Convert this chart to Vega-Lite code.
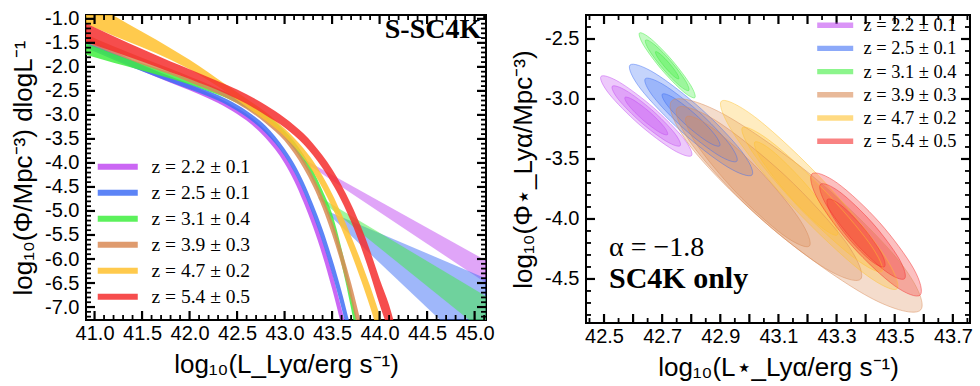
{
"$schema":"https://vega.github.io/schema/vega-lite/v6.json",
"padding":{"left":9,"top":7,"right":0,"bottom":0},
"spacing":13,
"config":{
 "view":{"stroke":"#000","strokeWidth":2},
 "axis":{"labelFont":"Liberation Sans","labelFontSize":20,"labelColor":"#000","titleFont":"Liberation Sans","titleFontSize":26,"titleFontWeight":"normal","titleColor":"#000","ticks":true,"tickOpacity":0,"grid":false,"domain":false}
},
"datasets":{
"pl":[
{"z":"z = 2.2 ± 0.1","L":43.2,"lo":-3.97,"hi":-3.92},{"z":"z = 2.2 ± 0.1","L":45.15,"lo":-6.54,"hi":-6.065},
{"z":"z = 2.5 ± 0.1","L":43.45,"lo":-5.05,"hi":-5.0},{"z":"z = 2.5 ± 0.1","L":45.15,"lo":-8.23,"hi":-6.43},
{"z":"z = 3.1 ± 0.4","L":43.36,"lo":-4.75,"hi":-4.7},{"z":"z = 3.1 ± 0.4","L":45.15,"lo":-7.6,"hi":-6.81}
],
"bands":[
{"z":"z = 2.2 ± 0.1","L":40.9,"lo":-1.54,"hi":-1.36},{"z":"z = 2.2 ± 0.1","L":41.2,"lo":-1.815,"hi":-1.665},{"z":"z = 2.2 ± 0.1","L":41.5,"lo":-2.085,"hi":-1.955},{"z":"z = 2.2 ± 0.1","L":41.8,"lo":-2.33,"hi":-2.21},{"z":"z = 2.2 ± 0.1","L":42.0,"lo":-2.488,"hi":-2.372},{"z":"z = 2.2 ± 0.1","L":42.2,"lo":-2.658,"hi":-2.542},{"z":"z = 2.2 ± 0.1","L":42.4,"lo":-2.86,"hi":-2.74},{"z":"z = 2.2 ± 0.1","L":42.6,"lo":-3.118,"hi":-2.982},{"z":"z = 2.2 ± 0.1","L":42.8,"lo":-3.48,"hi":-3.32},{"z":"z = 2.2 ± 0.1","L":43.0,"lo":-4.005,"hi":-3.835},{"z":"z = 2.2 ± 0.1","L":43.1,"lo":-4.37,"hi":-4.17},{"z":"z = 2.2 ± 0.1","L":43.2,"lo":-4.82,"hi":-4.58},{"z":"z = 2.2 ± 0.1","L":43.3,"lo":-5.335,"hi":-5.065},{"z":"z = 2.2 ± 0.1","L":43.4,"lo":-5.93,"hi":-5.63},{"z":"z = 2.2 ± 0.1","L":43.5,"lo":-6.62,"hi":-6.28},{"z":"z = 2.2 ± 0.1","L":43.6,"lo":-7.4,"hi":-7.04},{"z":"z = 2.2 ± 0.1","L":43.7,"lo":-8.2,"hi":-7.8},
{"z":"z = 2.5 ± 0.1","L":40.9,"lo":-1.6,"hi":-1.44},{"z":"z = 2.5 ± 0.1","L":41.2,"lo":-1.85,"hi":-1.71},{"z":"z = 2.5 ± 0.1","L":41.5,"lo":-2.092,"hi":-1.968},{"z":"z = 2.5 ± 0.1","L":41.8,"lo":-2.318,"hi":-2.202},{"z":"z = 2.5 ± 0.1","L":42.0,"lo":-2.468,"hi":-2.352},{"z":"z = 2.5 ± 0.1","L":42.2,"lo":-2.618,"hi":-2.502},{"z":"z = 2.5 ± 0.1","L":42.4,"lo":-2.8,"hi":-2.68},{"z":"z = 2.5 ± 0.1","L":42.6,"lo":-3.046,"hi":-2.914},{"z":"z = 2.5 ± 0.1","L":42.8,"lo":-3.376,"hi":-3.224},{"z":"z = 2.5 ± 0.1","L":43.0,"lo":-3.857,"hi":-3.703},{"z":"z = 2.5 ± 0.1","L":43.1,"lo":-4.19,"hi":-4.01},{"z":"z = 2.5 ± 0.1","L":43.2,"lo":-4.605,"hi":-4.395},{"z":"z = 2.5 ± 0.1","L":43.3,"lo":-5.102,"hi":-4.858},{"z":"z = 2.5 ± 0.1","L":43.4,"lo":-5.66,"hi":-5.38},{"z":"z = 2.5 ± 0.1","L":43.5,"lo":-6.308,"hi":-5.992},{"z":"z = 2.5 ± 0.1","L":43.6,"lo":-7.025,"hi":-6.675},{"z":"z = 2.5 ± 0.1","L":43.7,"lo":-7.84,"hi":-7.46},{"z":"z = 2.5 ± 0.1","L":43.8,"lo":-8.71,"hi":-8.29},
{"z":"z = 3.1 ± 0.4","L":40.9,"lo":-1.74,"hi":-1.5},{"z":"z = 3.1 ± 0.4","L":41.2,"lo":-1.915,"hi":-1.725},{"z":"z = 3.1 ± 0.4","L":41.5,"lo":-2.075,"hi":-1.925},{"z":"z = 3.1 ± 0.4","L":41.8,"lo":-2.242,"hi":-2.118},{"z":"z = 3.1 ± 0.4","L":42.0,"lo":-2.368,"hi":-2.252},{"z":"z = 3.1 ± 0.4","L":42.2,"lo":-2.508,"hi":-2.392},{"z":"z = 3.1 ± 0.4","L":42.4,"lo":-2.658,"hi":-2.542},{"z":"z = 3.1 ± 0.4","L":42.6,"lo":-2.864,"hi":-2.736},{"z":"z = 3.1 ± 0.4","L":42.8,"lo":-3.122,"hi":-2.978},{"z":"z = 3.1 ± 0.4","L":43.0,"lo":-3.47,"hi":-3.33},{"z":"z = 3.1 ± 0.4","L":43.1,"lo":-3.71,"hi":-3.55},{"z":"z = 3.1 ± 0.4","L":43.2,"lo":-4.01,"hi":-3.83},{"z":"z = 3.1 ± 0.4","L":43.3,"lo":-4.375,"hi":-4.165},{"z":"z = 3.1 ± 0.4","L":43.4,"lo":-4.82,"hi":-4.58},{"z":"z = 3.1 ± 0.4","L":43.5,"lo":-5.34,"hi":-5.06},{"z":"z = 3.1 ± 0.4","L":43.6,"lo":-6.11,"hi":-5.79},{"z":"z = 3.1 ± 0.4","L":43.7,"lo":-7.03,"hi":-6.67},{"z":"z = 3.1 ± 0.4","L":43.8,"lo":-8.05,"hi":-7.65},
{"z":"z = 3.9 ± 0.3","L":40.9,"lo":-1.49,"hi":-1.31},{"z":"z = 3.9 ± 0.3","L":41.2,"lo":-1.728,"hi":-1.572},{"z":"z = 3.9 ± 0.3","L":41.5,"lo":-1.948,"hi":-1.812},{"z":"z = 3.9 ± 0.3","L":41.8,"lo":-2.16,"hi":-2.04},{"z":"z = 3.9 ± 0.3","L":42.0,"lo":-2.318,"hi":-2.202},{"z":"z = 3.9 ± 0.3","L":42.2,"lo":-2.478,"hi":-2.362},{"z":"z = 3.9 ± 0.3","L":42.4,"lo":-2.658,"hi":-2.542},{"z":"z = 3.9 ± 0.3","L":42.6,"lo":-2.884,"hi":-2.756},{"z":"z = 3.9 ± 0.3","L":42.8,"lo":-3.172,"hi":-3.028},{"z":"z = 3.9 ± 0.3","L":43.0,"lo":-3.54,"hi":-3.4},{"z":"z = 3.9 ± 0.3","L":43.1,"lo":-3.8,"hi":-3.64},{"z":"z = 3.9 ± 0.3","L":43.2,"lo":-4.11,"hi":-3.93},{"z":"z = 3.9 ± 0.3","L":43.3,"lo":-4.485,"hi":-4.275},{"z":"z = 3.9 ± 0.3","L":43.4,"lo":-4.94,"hi":-4.7},{"z":"z = 3.9 ± 0.3","L":43.5,"lo":-5.49,"hi":-5.21},{"z":"z = 3.9 ± 0.3","L":43.6,"lo":-6.13,"hi":-5.81},{"z":"z = 3.9 ± 0.3","L":43.7,"lo":-6.86,"hi":-6.5},{"z":"z = 3.9 ± 0.3","L":43.8,"lo":-7.7,"hi":-7.3},{"z":"z = 3.9 ± 0.3","L":43.9,"lo":-8.62,"hi":-8.18},
{"z":"z = 4.7 ± 0.2","L":40.9,"lo":-1.1,"hi":-0.6},{"z":"z = 4.7 ± 0.2","L":41.2,"lo":-1.35,"hi":-0.93},{"z":"z = 4.7 ± 0.2","L":41.5,"lo":-1.59,"hi":-1.27},{"z":"z = 4.7 ± 0.2","L":41.8,"lo":-1.85,"hi":-1.61},{"z":"z = 4.7 ± 0.2","L":42.0,"lo":-2.05,"hi":-1.85},{"z":"z = 4.7 ± 0.2","L":42.2,"lo":-2.285,"hi":-2.115},{"z":"z = 4.7 ± 0.2","L":42.4,"lo":-2.545,"hi":-2.395},{"z":"z = 4.7 ± 0.2","L":42.6,"lo":-2.835,"hi":-2.665},{"z":"z = 4.7 ± 0.2","L":42.8,"lo":-3.123,"hi":-2.937},{"z":"z = 4.7 ± 0.2","L":43.0,"lo":-3.455,"hi":-3.285},{"z":"z = 4.7 ± 0.2","L":43.1,"lo":-3.66,"hi":-3.48},{"z":"z = 4.7 ± 0.2","L":43.2,"lo":-3.9,"hi":-3.7},{"z":"z = 4.7 ± 0.2","L":43.3,"lo":-4.182,"hi":-3.958},{"z":"z = 4.7 ± 0.2","L":43.4,"lo":-4.526,"hi":-4.274},{"z":"z = 4.7 ± 0.2","L":43.5,"lo":-4.92,"hi":-4.64},{"z":"z = 4.7 ± 0.2","L":43.6,"lo":-5.375,"hi":-5.065},{"z":"z = 4.7 ± 0.2","L":43.7,"lo":-5.875,"hi":-5.525},{"z":"z = 4.7 ± 0.2","L":43.8,"lo":-6.415,"hi":-6.025},{"z":"z = 4.7 ± 0.2","L":43.9,"lo":-6.997,"hi":-6.563},{"z":"z = 4.7 ± 0.2","L":44.0,"lo":-7.64,"hi":-7.16},{"z":"z = 4.7 ± 0.2","L":44.1,"lo":-8.36,"hi":-7.84},
{"z":"z = 5.4 ± 0.5","L":40.9,"lo":-1.47,"hi":-1.09},{"z":"z = 5.4 ± 0.5","L":41.2,"lo":-1.68,"hi":-1.36},{"z":"z = 5.4 ± 0.5","L":41.5,"lo":-1.89,"hi":-1.63},{"z":"z = 5.4 ± 0.5","L":41.8,"lo":-2.11,"hi":-1.89},{"z":"z = 5.4 ± 0.5","L":42.0,"lo":-2.25,"hi":-2.05},{"z":"z = 5.4 ± 0.5","L":42.2,"lo":-2.405,"hi":-2.215},{"z":"z = 5.4 ± 0.5","L":42.4,"lo":-2.575,"hi":-2.385},{"z":"z = 5.4 ± 0.5","L":42.6,"lo":-2.77,"hi":-2.57},{"z":"z = 5.4 ± 0.5","L":42.8,"lo":-3.005,"hi":-2.795},{"z":"z = 5.4 ± 0.5","L":43.0,"lo":-3.26,"hi":-3.06},{"z":"z = 5.4 ± 0.5","L":43.1,"lo":-3.425,"hi":-3.215},{"z":"z = 5.4 ± 0.5","L":43.2,"lo":-3.612,"hi":-3.388},{"z":"z = 5.4 ± 0.5","L":43.3,"lo":-3.842,"hi":-3.598},{"z":"z = 5.4 ± 0.5","L":43.4,"lo":-4.113,"hi":-3.847},{"z":"z = 5.4 ± 0.5","L":43.5,"lo":-4.427,"hi":-4.133},{"z":"z = 5.4 ± 0.5","L":43.6,"lo":-4.79,"hi":-4.47},{"z":"z = 5.4 ± 0.5","L":43.7,"lo":-5.22,"hi":-4.86},{"z":"z = 5.4 ± 0.5","L":43.8,"lo":-5.73,"hi":-5.31},{"z":"z = 5.4 ± 0.5","L":43.9,"lo":-6.31,"hi":-5.83},{"z":"z = 5.4 ± 0.5","L":44.0,"lo":-6.945,"hi":-6.415},{"z":"z = 5.4 ± 0.5","L":44.1,"lo":-7.54,"hi":-6.96},{"z":"z = 5.4 ± 0.5","L":44.2,"lo":-8.32,"hi":-7.68}
],
"ct":[
{"z":"z = 2.2 ± 0.1","c":"1a","i":0,"x":42.801,"y":-3.472},{"z":"z = 2.2 ± 0.1","c":"1a","i":1,"x":42.7376,"y":-3.4236},{"z":"z = 2.2 ± 0.1","c":"1a","i":2,"x":42.6202,"y":-3.2105},{"z":"z = 2.2 ± 0.1","c":"1a","i":3,"x":42.5174,"y":-2.957},{"z":"z = 2.2 ± 0.1","c":"1a","i":4,"x":42.4896,"y":-2.8117},{"z":"z = 2.2 ± 0.1","c":"1a","i":5,"x":42.553,"y":-2.8598},{"z":"z = 2.2 ± 0.1","c":"1a","i":6,"x":42.6704,"y":-3.0729},{"z":"z = 2.2 ± 0.1","c":"1a","i":7,"x":42.7732,"y":-3.3264},
{"z":"z = 2.2 ± 0.1","c":"1b","i":0,"x":42.7621,"y":-3.3892},{"z":"z = 2.2 ± 0.1","c":"1b","i":1,"x":42.7145,"y":-3.3531},{"z":"z = 2.2 ± 0.1","c":"1b","i":2,"x":42.6265,"y":-3.1933},{"z":"z = 2.2 ± 0.1","c":"1b","i":3,"x":42.5494,"y":-3.0032},{"z":"z = 2.2 ± 0.1","c":"1b","i":4,"x":42.5285,"y":-2.8942},{"z":"z = 2.2 ± 0.1","c":"1b","i":5,"x":42.5761,"y":-2.9303},{"z":"z = 2.2 ± 0.1","c":"1b","i":6,"x":42.6641,"y":-3.0901},{"z":"z = 2.2 ± 0.1","c":"1b","i":7,"x":42.7412,"y":-3.2802},
{"z":"z = 2.2 ± 0.1","c":"1c","i":0,"x":42.7185,"y":-3.2968},{"z":"z = 2.2 ± 0.1","c":"1c","i":1,"x":42.6887,"y":-3.2742},{"z":"z = 2.2 ± 0.1","c":"1c","i":2,"x":42.6335,"y":-3.174},{"z":"z = 2.2 ± 0.1","c":"1c","i":3,"x":42.5852,"y":-3.0549},{"z":"z = 2.2 ± 0.1","c":"1c","i":4,"x":42.5721,"y":-2.9866},{"z":"z = 2.2 ± 0.1","c":"1c","i":5,"x":42.6019,"y":-3.0092},{"z":"z = 2.2 ± 0.1","c":"1c","i":6,"x":42.6571,"y":-3.1094},{"z":"z = 2.2 ± 0.1","c":"1c","i":7,"x":42.7054,"y":-3.2285},
{"z":"z = 2.5 ± 0.1","c":"2a","i":0,"x":43.0093,"y":-3.6328},{"z":"z = 2.5 ± 0.1","c":"2a","i":1,"x":42.9232,"y":-3.5641},{"z":"z = 2.5 ± 0.1","c":"2a","i":2,"x":42.7645,"y":-3.2675},{"z":"z = 2.5 ± 0.1","c":"2a","i":3,"x":42.6262,"y":-2.9167},{"z":"z = 2.5 ± 0.1","c":"2a","i":4,"x":42.5893,"y":-2.7172},{"z":"z = 2.5 ± 0.1","c":"2a","i":5,"x":42.6754,"y":-2.7859},{"z":"z = 2.5 ± 0.1","c":"2a","i":6,"x":42.8341,"y":-3.0825},{"z":"z = 2.5 ± 0.1","c":"2a","i":7,"x":42.9724,"y":-3.4333},
{"z":"z = 2.5 ± 0.1","c":"2b","i":0,"x":42.9568,"y":-3.5184},{"z":"z = 2.5 ± 0.1","c":"2b","i":1,"x":42.8922,"y":-3.4668},{"z":"z = 2.5 ± 0.1","c":"2b","i":2,"x":42.7732,"y":-3.2444},{"z":"z = 2.5 ± 0.1","c":"2b","i":3,"x":42.6695,"y":-2.9813},{"z":"z = 2.5 ± 0.1","c":"2b","i":4,"x":42.6418,"y":-2.8316},{"z":"z = 2.5 ± 0.1","c":"2b","i":5,"x":42.7064,"y":-2.8832},{"z":"z = 2.5 ± 0.1","c":"2b","i":6,"x":42.8254,"y":-3.1056},{"z":"z = 2.5 ± 0.1","c":"2b","i":7,"x":42.9291,"y":-3.3687},
{"z":"z = 2.5 ± 0.1","c":"2c","i":0,"x":42.898,"y":-3.3902},{"z":"z = 2.5 ± 0.1","c":"2c","i":1,"x":42.8575,"y":-3.3579},{"z":"z = 2.5 ± 0.1","c":"2c","i":2,"x":42.7829,"y":-3.2185},{"z":"z = 2.5 ± 0.1","c":"2c","i":3,"x":42.7179,"y":-3.0536},{"z":"z = 2.5 ± 0.1","c":"2c","i":4,"x":42.7006,"y":-2.9598},{"z":"z = 2.5 ± 0.1","c":"2c","i":5,"x":42.7411,"y":-2.9921},{"z":"z = 2.5 ± 0.1","c":"2c","i":6,"x":42.8157,"y":-3.1315},{"z":"z = 2.5 ± 0.1","c":"2c","i":7,"x":42.8807,"y":-3.2964},
{"z":"z = 3.1 ± 0.4","c":"3a","i":0,"x":42.8124,"y":-2.9887},{"z":"z = 3.1 ± 0.4","c":"3a","i":1,"x":42.7715,"y":-2.9364},{"z":"z = 3.1 ± 0.4","c":"3a","i":2,"x":42.6989,"y":-2.7569},{"z":"z = 3.1 ± 0.4","c":"3a","i":3,"x":42.6371,"y":-2.5553},{"z":"z = 3.1 ± 0.4","c":"3a","i":4,"x":42.6222,"y":-2.4497},{"z":"z = 3.1 ± 0.4","c":"3a","i":5,"x":42.6631,"y":-2.502},{"z":"z = 3.1 ± 0.4","c":"3a","i":6,"x":42.7357,"y":-2.6815},{"z":"z = 3.1 ± 0.4","c":"3a","i":7,"x":42.7975,"y":-2.8831},
{"z":"z = 3.1 ± 0.4","c":"3b","i":0,"x":42.7915,"y":-2.9294},{"z":"z = 3.1 ± 0.4","c":"3b","i":1,"x":42.7596,"y":-2.8886},{"z":"z = 3.1 ± 0.4","c":"3b","i":2,"x":42.7029,"y":-2.7486},{"z":"z = 3.1 ± 0.4","c":"3b","i":3,"x":42.6547,"y":-2.5914},{"z":"z = 3.1 ± 0.4","c":"3b","i":4,"x":42.6431,"y":-2.509},{"z":"z = 3.1 ± 0.4","c":"3b","i":5,"x":42.675,"y":-2.5498},{"z":"z = 3.1 ± 0.4","c":"3b","i":6,"x":42.7317,"y":-2.6898},{"z":"z = 3.1 ± 0.4","c":"3b","i":7,"x":42.7799,"y":-2.847},
{"z":"z = 3.1 ± 0.4","c":"3c","i":0,"x":42.7572,"y":-2.8324},{"z":"z = 3.1 ± 0.4","c":"3c","i":1,"x":42.7401,"y":-2.8104},{"z":"z = 3.1 ± 0.4","c":"3c","i":2,"x":42.7096,"y":-2.735},{"z":"z = 3.1 ± 0.4","c":"3c","i":3,"x":42.6836,"y":-2.6504},{"z":"z = 3.1 ± 0.4","c":"3c","i":4,"x":42.6774,"y":-2.606},{"z":"z = 3.1 ± 0.4","c":"3c","i":5,"x":42.6945,"y":-2.628},{"z":"z = 3.1 ± 0.4","c":"3c","i":6,"x":42.725,"y":-2.7034},{"z":"z = 3.1 ± 0.4","c":"3c","i":7,"x":42.751,"y":-2.788},
{"z":"z = 3.9 ± 0.3","c":"4a","i":0,"x":43.5897,"y":-4.7569},{"z":"z = 3.9 ± 0.3","c":"4a","i":1,"x":43.4121,"y":-4.6509},{"z":"z = 3.9 ± 0.3","c":"4a","i":2,"x":43.0874,"y":-4.0979},{"z":"z = 3.9 ± 0.3","c":"4a","i":3,"x":42.8058,"y":-3.4216},{"z":"z = 3.9 ± 0.3","c":"4a","i":4,"x":42.7321,"y":-3.0181},{"z":"z = 3.9 ± 0.3","c":"4a","i":5,"x":42.9097,"y":-3.1241},{"z":"z = 3.9 ± 0.3","c":"4a","i":6,"x":43.2344,"y":-3.6771},{"z":"z = 3.9 ± 0.3","c":"4a","i":7,"x":43.516,"y":-4.3534},
{"z":"z = 3.9 ± 0.3","c":"4b","i":0,"x":43.3828,"y":-4.501},{"z":"z = 3.9 ± 0.3","c":"4b","i":1,"x":43.2502,"y":-4.395},{"z":"z = 3.9 ± 0.3","c":"4b","i":2,"x":43.0106,"y":-3.9333},{"z":"z = 3.9 ± 0.3","c":"4b","i":3,"x":42.8044,"y":-3.3861},{"z":"z = 3.9 ± 0.3","c":"4b","i":4,"x":42.7522,"y":-3.074},{"z":"z = 3.9 ± 0.3","c":"4b","i":5,"x":42.8848,"y":-3.18},{"z":"z = 3.9 ± 0.3","c":"4b","i":6,"x":43.1244,"y":-3.6417},{"z":"z = 3.9 ± 0.3","c":"4b","i":7,"x":43.3306,"y":-4.1889},
{"z":"z = 3.9 ± 0.3","c":"4c","i":0,"x":43.2064,"y":-4.2259},{"z":"z = 3.9 ± 0.3","c":"4c","i":1,"x":43.116,"y":-4.1329},{"z":"z = 3.9 ± 0.3","c":"4c","i":2,"x":42.9546,"y":-3.7791},{"z":"z = 3.9 ± 0.3","c":"4c","i":3,"x":42.8168,"y":-3.3716},{"z":"z = 3.9 ± 0.3","c":"4c","i":4,"x":42.7832,"y":-3.1491},{"z":"z = 3.9 ± 0.3","c":"4c","i":5,"x":42.8736,"y":-3.2421},{"z":"z = 3.9 ± 0.3","c":"4c","i":6,"x":43.035,"y":-3.5959},{"z":"z = 3.9 ± 0.3","c":"4c","i":7,"x":43.1728,"y":-4.0034},
{"z":"z = 4.7 ± 0.2","c":"5a","i":0,"x":43.508,"y":-4.5819},{"z":"z = 4.7 ± 0.2","c":"5a","i":1,"x":43.3836,"y":-4.4332},{"z":"z = 4.7 ± 0.2","c":"5a","i":2,"x":43.1552,"y":-3.9137},{"z":"z = 4.7 ± 0.2","c":"5a","i":3,"x":42.9565,"y":-3.3276},{"z":"z = 4.7 ± 0.2","c":"5a","i":4,"x":42.9038,"y":-3.0181},{"z":"z = 4.7 ± 0.2","c":"5a","i":5,"x":43.0282,"y":-3.1668},{"z":"z = 4.7 ± 0.2","c":"5a","i":6,"x":43.2566,"y":-3.6863},{"z":"z = 4.7 ± 0.2","c":"5a","i":7,"x":43.4553,"y":-4.2724},
{"z":"z = 4.7 ± 0.2","c":"5b","i":0,"x":43.4564,"y":-4.4367},{"z":"z = 4.7 ± 0.2","c":"5b","i":1,"x":43.3597,"y":-4.3225},{"z":"z = 4.7 ± 0.2","c":"5b","i":2,"x":43.179,"y":-3.9243},{"z":"z = 4.7 ± 0.2","c":"5b","i":3,"x":43.0202,"y":-3.4752},{"z":"z = 4.7 ± 0.2","c":"5b","i":4,"x":42.9762,"y":-3.2383},{"z":"z = 4.7 ± 0.2","c":"5b","i":5,"x":43.0729,"y":-3.3525},{"z":"z = 4.7 ± 0.2","c":"5b","i":6,"x":43.2536,"y":-3.7507},{"z":"z = 4.7 ± 0.2","c":"5b","i":7,"x":43.4124,"y":-4.1998},
{"z":"z = 4.7 ± 0.2","c":"5c","i":0,"x":43.3027,"y":-4.1333},{"z":"z = 4.7 ± 0.2","c":"5c","i":1,"x":43.2428,"y":-4.0587},{"z":"z = 4.7 ± 0.2","c":"5c","i":2,"x":43.1349,"y":-3.8009},{"z":"z = 4.7 ± 0.2","c":"5c","i":3,"x":43.0423,"y":-3.5108},{"z":"z = 4.7 ± 0.2","c":"5c","i":4,"x":43.0191,"y":-3.3583},{"z":"z = 4.7 ± 0.2","c":"5c","i":5,"x":43.079,"y":-3.4329},{"z":"z = 4.7 ± 0.2","c":"5c","i":6,"x":43.1869,"y":-3.6907},{"z":"z = 4.7 ± 0.2","c":"5c","i":7,"x":43.2795,"y":-3.9808},
{"z":"z = 5.4 ± 0.5","c":"6a","i":0,"x":43.5872,"y":-4.6348},{"z":"z = 5.4 ± 0.5","c":"6a","i":1,"x":43.4998,"y":-4.557},{"z":"z = 5.4 ± 0.5","c":"6a","i":2,"x":43.3548,"y":-4.2287},{"z":"z = 5.4 ± 0.5","c":"6a","i":3,"x":43.2371,"y":-3.8421},{"z":"z = 5.4 ± 0.5","c":"6a","i":4,"x":43.2156,"y":-3.6236},{"z":"z = 5.4 ± 0.5","c":"6a","i":5,"x":43.303,"y":-3.7014},{"z":"z = 5.4 ± 0.5","c":"6a","i":6,"x":43.448,"y":-4.0297},{"z":"z = 5.4 ± 0.5","c":"6a","i":7,"x":43.5657,"y":-4.4163},
{"z":"z = 5.4 ± 0.5","c":"6b","i":0,"x":43.5336,"y":-4.498},{"z":"z = 5.4 ± 0.5","c":"6b","i":1,"x":43.4675,"y":-4.4333},{"z":"z = 5.4 ± 0.5","c":"6b","i":2,"x":43.3556,"y":-4.1759},{"z":"z = 5.4 ± 0.5","c":"6b","i":3,"x":43.2635,"y":-3.8765},{"z":"z = 5.4 ± 0.5","c":"6b","i":4,"x":43.245,"y":-3.7104},{"z":"z = 5.4 ± 0.5","c":"6b","i":5,"x":43.3111,"y":-3.7751},{"z":"z = 5.4 ± 0.5","c":"6b","i":6,"x":43.423,"y":-4.0325},{"z":"z = 5.4 ± 0.5","c":"6b","i":7,"x":43.5151,"y":-4.3319},
{"z":"z = 5.4 ± 0.5","c":"6c","i":0,"x":43.4647,"y":-4.3976},{"z":"z = 5.4 ± 0.5","c":"6c","i":1,"x":43.4191,"y":-4.3494},{"z":"z = 5.4 ± 0.5","c":"6c","i":2,"x":43.3429,"y":-4.1649},{"z":"z = 5.4 ± 0.5","c":"6c","i":3,"x":43.2807,"y":-3.9522},{"z":"z = 5.4 ± 0.5","c":"6c","i":4,"x":43.2689,"y":-3.8358},{"z":"z = 5.4 ± 0.5","c":"6c","i":5,"x":43.3145,"y":-3.884},{"z":"z = 5.4 ± 0.5","c":"6c","i":6,"x":43.3907,"y":-4.0685},{"z":"z = 5.4 ± 0.5","c":"6c","i":7,"x":43.4529,"y":-4.2812}
]
},
"hconcat":[
{
 "width":400,"height":305,
 "layer":[
  {"data":{"name":"pl"},
   "mark":{"type":"area","opacity":0.5,"clip":true},
   "encoding":{
    "x":{"field":"L","type":"quantitative","scale":{"domain":[40.91,45.12],"nice":false,"zero":false},
      "axis":{"orient":"bottom","offset":-8,"tickSize":8,"values":[41,41.5,42,42.5,43,43.5,44,44.5,45],"labelExpr":"replace(format(datum.value,'.1f'),'\u2212','-')","labelPadding":3,"title":"log₁₀(L_Lyα/erg s⁻¹)","titlePadding":8}},
    "y":{"field":"lo","type":"quantitative","scale":{"domain":[-7.27,-0.92],"nice":false,"zero":false},
      "axis":{"orient":"left","offset":-8,"tickSize":8,"values":[-1,-1.5,-2,-2.5,-3,-3.5,-4,-4.5,-5,-5.5,-6,-6.5,-7],"labelExpr":"replace(format(datum.value,'.1f'),'\u2212','-')","labelPadding":7,"title":"log₁₀(Φ/Mpc⁻³) dlogL⁻¹","titlePadding":8}},
    "y2":{"field":"hi"},
    "color":{"field":"z","type":"nominal","scale":{"domain":["z = 2.2 ± 0.1","z = 2.5 ± 0.1","z = 3.1 ± 0.4","z = 3.9 ± 0.3","z = 4.7 ± 0.2","z = 5.4 ± 0.5"],"range":["#c24cf2","#3f6ff5","#3fee3f","#d98a55","#ffc12e","#f52e2e"]},
      "legend":{"orient":"none","legendX":22,"legendY":142,"title":null,"symbolType":"M-3,-0.45L3,-0.45L3,0.45L-3,0.45Z","symbolSize":178,"symbolStrokeWidth":0,"symbolOpacity":1,"labelFont":"Liberation Serif","labelFontSize":19.5,"labelColor":"#000","labelOffset":24,"rowPadding":5,"padding":0}}
   }},
  {"data":{"name":"bands"},
   "mark":{"type":"area","opacity":0.85,"clip":true,"interpolate":"monotone"},
   "encoding":{
    "x":{"field":"L","type":"quantitative","axis":null},
    "y":{"field":"lo","type":"quantitative","axis":null},
    "y2":{"field":"hi"},
    "color":{"field":"z","type":"nominal"}
   }},
  {"data":{"values":[{"L":45.07,"v":-1.23,"t":"S-SC4K"}]},
   "mark":{"type":"text","font":"Liberation Serif","fontWeight":"bold","fontSize":28,"align":"right","baseline":"middle","color":"#000"},
   "encoding":{
    "x":{"field":"L","type":"quantitative","axis":null},
    "y":{"field":"v","type":"quantitative","axis":null},
    "text":{"field":"t"}
   }},
  {"data":{"values":[{"v":41},{"v":41.5},{"v":42},{"v":42.5},{"v":43},{"v":43.5},{"v":44},{"v":44.5},{"v":45}]},
   "layer":[
    {"mark":{"type":"tick","orient":"vertical","size":18,"thickness":2.2,"color":"#000","opacity":1,"clip":true},
     "encoding":{"x":{"field":"v","type":"quantitative","axis":null},"y":{"datum":-7.27,"type":"quantitative","axis":null}}},
    {"mark":{"type":"tick","orient":"vertical","size":18,"thickness":2.2,"color":"#000","opacity":1,"clip":true},
     "encoding":{"x":{"field":"v","type":"quantitative","axis":null},"y":{"datum":-0.92,"type":"quantitative","axis":null}}}
   ]},
  {"data":{"values":[{"v":41.1},{"v":41.2},{"v":41.3},{"v":41.4},{"v":41.6},{"v":41.7},{"v":41.8},{"v":41.9},{"v":42.1},{"v":42.2},{"v":42.3},{"v":42.4},{"v":42.6},{"v":42.7},{"v":42.8},{"v":42.9},{"v":43.1},{"v":43.2},{"v":43.3},{"v":43.4},{"v":43.6},{"v":43.7},{"v":43.8},{"v":43.9},{"v":44.1},{"v":44.2},{"v":44.3},{"v":44.4},{"v":44.6},{"v":44.7},{"v":44.8},{"v":44.9},{"v":45.1}]},
   "layer":[
    {"mark":{"type":"tick","orient":"vertical","size":10,"thickness":1.8,"color":"#000","opacity":1,"clip":true},
     "encoding":{"x":{"field":"v","type":"quantitative","axis":null},"y":{"datum":-7.27,"type":"quantitative","axis":null}}},
    {"mark":{"type":"tick","orient":"vertical","size":10,"thickness":1.8,"color":"#000","opacity":1,"clip":true},
     "encoding":{"x":{"field":"v","type":"quantitative","axis":null},"y":{"datum":-0.92,"type":"quantitative","axis":null}}}
   ]},
  {"data":{"values":[{"v":-1},{"v":-1.5},{"v":-2},{"v":-2.5},{"v":-3},{"v":-3.5},{"v":-4},{"v":-4.5},{"v":-5},{"v":-5.5},{"v":-6},{"v":-6.5},{"v":-7}]},
   "layer":[
    {"mark":{"type":"tick","orient":"horizontal","size":18,"thickness":2.2,"color":"#000","opacity":1,"clip":true},
     "encoding":{"y":{"field":"v","type":"quantitative","axis":null},"x":{"datum":40.91,"type":"quantitative","axis":null}}},
    {"mark":{"type":"tick","orient":"horizontal","size":18,"thickness":2.2,"color":"#000","opacity":1,"clip":true},
     "encoding":{"y":{"field":"v","type":"quantitative","axis":null},"x":{"datum":45.12,"type":"quantitative","axis":null}}}
   ]},
  {"data":{"values":[{"v":-1.1},{"v":-1.2},{"v":-1.3},{"v":-1.4},{"v":-1.6},{"v":-1.7},{"v":-1.8},{"v":-1.9},{"v":-2.1},{"v":-2.2},{"v":-2.3},{"v":-2.4},{"v":-2.6},{"v":-2.7},{"v":-2.8},{"v":-2.9},{"v":-3.1},{"v":-3.2},{"v":-3.3},{"v":-3.4},{"v":-3.6},{"v":-3.7},{"v":-3.8},{"v":-3.9},{"v":-4.1},{"v":-4.2},{"v":-4.3},{"v":-4.4},{"v":-4.6},{"v":-4.7},{"v":-4.8},{"v":-4.9},{"v":-5.1},{"v":-5.2},{"v":-5.3},{"v":-5.4},{"v":-5.6},{"v":-5.7},{"v":-5.8},{"v":-5.9},{"v":-6.1},{"v":-6.2},{"v":-6.3},{"v":-6.4},{"v":-6.6},{"v":-6.7},{"v":-6.8},{"v":-6.9},{"v":-7.1},{"v":-7.2}]},
   "layer":[
    {"mark":{"type":"tick","orient":"horizontal","size":10,"thickness":1.8,"color":"#000","opacity":1,"clip":true},
     "encoding":{"y":{"field":"v","type":"quantitative","axis":null},"x":{"datum":40.91,"type":"quantitative","axis":null}}},
    {"mark":{"type":"tick","orient":"horizontal","size":10,"thickness":1.8,"color":"#000","opacity":1,"clip":true},
     "encoding":{"y":{"field":"v","type":"quantitative","axis":null},"x":{"datum":45.12,"type":"quantitative","axis":null}}}
   ]}
 ],
 "resolve":{"axis":{"x":"independent","y":"independent"}}
},
{
 "width":384,"height":308,
 "layer":[
  {"data":{"name":"ct"},
   "mark":{"type":"line","filled":true,"interpolate":"cardinal-closed","fillOpacity":0.3,"strokeWidth":0,"clip":true},
   "encoding":{
    "x":{"field":"x","type":"quantitative","scale":{"domain":[42.438,43.759],"nice":false,"zero":false},
      "axis":{"orient":"bottom","offset":-8,"tickSize":8,"values":[42.5,42.6,42.7,42.8,42.9,43.0,43.1,43.2,43.3,43.4,43.5,43.6,43.7],"labelExpr":"indexof(['42.5','42.7','42.9','43.1','43.3','43.5','43.7'], format(datum.value,'.1f')) >= 0 ? format(datum.value,'.1f') : ''","labelPadding":3,"title":"log₁₀(L⋆_Lyα/erg s⁻¹)","titlePadding":8}},
    "y":{"field":"y","type":"quantitative","scale":{"domain":[-4.867,-2.3],"nice":false,"zero":false},
      "axis":{"orient":"left","offset":-8,"tickSize":8,"values":[-2.5,-3,-3.5,-4,-4.5],"labelExpr":"replace(format(datum.value,'.1f'),'\u2212','-')","labelPadding":7,"title":"log₁₀(Φ⋆_Lyα/Mpc⁻³)","titlePadding":8}},
    "color":{"field":"z","type":"nominal","scale":{"domain":["z = 2.2 ± 0.1","z = 2.5 ± 0.1","z = 3.1 ± 0.4","z = 3.9 ± 0.3","z = 4.7 ± 0.2","z = 5.4 ± 0.5"],"range":["#c24cf2","#3f6ff5","#3fee3f","#d98a55","#ffc12e","#f52e2e"]},
      "legend":{"orient":"none","legendX":240,"legendY":1,"title":null,"symbolType":"M-3,-0.45L3,-0.45L3,0.45L-3,0.45Z","symbolSize":144,"symbolStrokeWidth":0,"symbolOpacity":0.7,"labelFont":"Liberation Serif","labelFontSize":18.4,"labelColor":"#000","labelOffset":19,"rowPadding":4.2,"padding":0}},
    "detail":{"field":"c"},
    "order":{"field":"i","type":"quantitative"}
   }},
  {"data":{"name":"ct"},
   "mark":{"type":"line","interpolate":"cardinal-closed","strokeWidth":0.8,"opacity":0.6,"clip":true},
   "encoding":{
    "x":{"field":"x","type":"quantitative","axis":null},
    "y":{"field":"y","type":"quantitative","axis":null},
    "color":{"field":"z","type":"nominal"},
    "detail":{"field":"c"},
    "order":{"field":"i","type":"quantitative"}
   }},
  {"data":{"values":[{"x":42.517,"y":-4.24,"t":"α = −1.8"}]},
   "mark":{"type":"text","font":"Liberation Serif","fontSize":28,"align":"left","baseline":"middle","color":"#000"},
   "encoding":{
    "x":{"field":"x","type":"quantitative","axis":null},
    "y":{"field":"y","type":"quantitative","axis":null},
    "text":{"field":"t"}
   }},
  {"data":{"values":[{"x":42.517,"y":-4.5,"t":"SC4K only"}]},
   "mark":{"type":"text","font":"Liberation Serif","fontWeight":"bold","fontSize":30,"align":"left","baseline":"middle","color":"#000"},
   "encoding":{
    "x":{"field":"x","type":"quantitative","axis":null},
    "y":{"field":"y","type":"quantitative","axis":null},
    "text":{"field":"t"}
   }},
  {"data":{"values":[{"v":42.5},{"v":42.6},{"v":42.7},{"v":42.8},{"v":42.9},{"v":43.0},{"v":43.1},{"v":43.2},{"v":43.3},{"v":43.4},{"v":43.5},{"v":43.6},{"v":43.7}]},
   "layer":[
    {"mark":{"type":"tick","orient":"vertical","size":18,"thickness":2.2,"color":"#000","opacity":1,"clip":true},
     "encoding":{"x":{"field":"v","type":"quantitative","axis":null},"y":{"datum":-4.867,"type":"quantitative","axis":null}}},
    {"mark":{"type":"tick","orient":"vertical","size":18,"thickness":2.2,"color":"#000","opacity":1,"clip":true},
     "encoding":{"x":{"field":"v","type":"quantitative","axis":null},"y":{"datum":-2.3,"type":"quantitative","axis":null}}}
   ]},
  {"data":{"values":[{"v":42.45},{"v":42.55},{"v":42.65},{"v":42.75},{"v":42.85},{"v":42.95},{"v":43.05},{"v":43.15},{"v":43.25},{"v":43.35},{"v":43.45},{"v":43.55},{"v":43.65},{"v":43.75}]},
   "layer":[
    {"mark":{"type":"tick","orient":"vertical","size":10,"thickness":1.8,"color":"#000","opacity":1,"clip":true},
     "encoding":{"x":{"field":"v","type":"quantitative","axis":null},"y":{"datum":-4.867,"type":"quantitative","axis":null}}},
    {"mark":{"type":"tick","orient":"vertical","size":10,"thickness":1.8,"color":"#000","opacity":1,"clip":true},
     "encoding":{"x":{"field":"v","type":"quantitative","axis":null},"y":{"datum":-2.3,"type":"quantitative","axis":null}}}
   ]},
  {"data":{"values":[{"v":-2.5},{"v":-3},{"v":-3.5},{"v":-4},{"v":-4.5}]},
   "layer":[
    {"mark":{"type":"tick","orient":"horizontal","size":18,"thickness":2.2,"color":"#000","opacity":1,"clip":true},
     "encoding":{"y":{"field":"v","type":"quantitative","axis":null},"x":{"datum":42.438,"type":"quantitative","axis":null}}},
    {"mark":{"type":"tick","orient":"horizontal","size":18,"thickness":2.2,"color":"#000","opacity":1,"clip":true},
     "encoding":{"y":{"field":"v","type":"quantitative","axis":null},"x":{"datum":43.759,"type":"quantitative","axis":null}}}
   ]},
  {"data":{"values":[{"v":-2.4},{"v":-2.6},{"v":-2.7},{"v":-2.8},{"v":-2.9},{"v":-3.1},{"v":-3.2},{"v":-3.3},{"v":-3.4},{"v":-3.6},{"v":-3.7},{"v":-3.8},{"v":-3.9},{"v":-4.1},{"v":-4.2},{"v":-4.3},{"v":-4.4},{"v":-4.6},{"v":-4.7},{"v":-4.8}]},
   "layer":[
    {"mark":{"type":"tick","orient":"horizontal","size":10,"thickness":1.8,"color":"#000","opacity":1,"clip":true},
     "encoding":{"y":{"field":"v","type":"quantitative","axis":null},"x":{"datum":42.438,"type":"quantitative","axis":null}}},
    {"mark":{"type":"tick","orient":"horizontal","size":10,"thickness":1.8,"color":"#000","opacity":1,"clip":true},
     "encoding":{"y":{"field":"v","type":"quantitative","axis":null},"x":{"datum":43.759,"type":"quantitative","axis":null}}}
   ]}
 ],
 "resolve":{"axis":{"x":"independent","y":"independent"}}
}
],
"resolve":{"scale":{"color":"independent"},"legend":{"color":"independent"}}
}
